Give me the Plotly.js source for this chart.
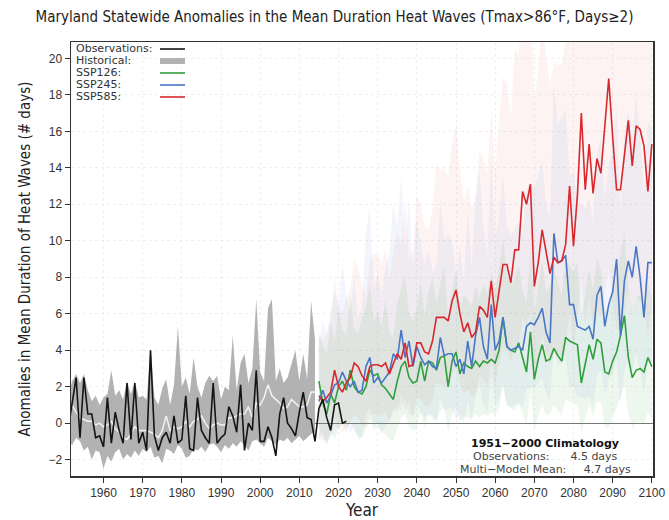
<!DOCTYPE html>
<html>
<head>
<meta charset="utf-8">
<script src="https://cdn.plot.ly/plotly-3.0.1.min.js"></script>
<style>html,body{margin:0;padding:0;background:#fff;}#chart{width:669px;height:520px;}</style>
</head>
<body>
<div id="chart"></div>
<script>
// ---------------- DATA ----------------
const obsStartYear = 1951;
const observations = [
  -0.3, 1.0, 2.5, -0.8, 2.5, 0.5, 0.5, -0.8, -0.7, -1.3,   // 1951-1960
  1.4, -1.1, 0.6, -0.4, -1.1, 2.2, -0.9, 2.2, -1.1, -0.5,  // 1961-1970
  -1.5, 4.0, -0.7, -1.5, -0.8, -0.5, -1.1, 0.4, -1.1, -0.9, // 1971-1980
  1.5, -1.4, -1.5, 1.4, -0.4, -0.8, -1.1, 2.2, -1.1, -0.8, // 1981-1990
  -0.6, 0.9, 0.4, -0.5, 2.1, -1.5, 0.0, -0.4, 2.9, -1.0,   // 1991-2000
  -1.0, -0.2, -0.8, -1.8, 0.5, 1.4, 0.0, -0.3, -0.7, 0.6,  // 2001-2010
  1.7, 0.3, 0.2, -1.0, 0.8, 1.3, 0.3, -0.4, 1.0, 1.1,      // 2011-2020
  0.0, 0.1                                                // 2021-2022
];

const histStartYear = 1951;
const historicalMean = [
  0.2, 1.0, 0.6, 0.3, 0.2, 0.1, 0.1, -0.1, 0.0, -0.2,      // 1951-1960
  -0.1, 0.1, -0.3, -0.5, -0.8, -0.9, -0.6, -0.2, -0.4, -0.4,// 1961-1970
  -0.4, -0.5, -0.6, -0.8, -0.4, 0.4, -0.4, -0.2, -0.3, -0.2,// 1971-1980
  0.1, -0.2, 0.1, 0.2, 0.4, 0.0, -0.3, -0.1, 0.0, -0.1,     // 1981-1990
  -0.1, 0.3, 0.3, 0.4, 0.5, 0.5, 0.9, 0.3, 1.1, 1.0,        // 1991-2000
  1.4, 2.1, 1.5, 1.3, 1.1, 0.8, 0.9, 1.3, 1.1, 0.9,         // 2001-2010
  0.9, 1.0, 1.7, 1.7                                        // 2011-2014
];
const historicalUpper = [
  1.5, 2.3, 2.7, 2.2, 2.7, 1.8, 1.2, 1.5, 1.0, 1.4,
  1.6, 2.9, 1.5, 1.8, 1.3, 2.3, 1.6, 2.3, 1.4, 1.5,
  1.3, 4.1, 1.4, 1.0, 1.9, 2.4, 1.0, 2.1, 5.3, 2.0,
  2.5, 1.6, 3.6, 2.0, 1.4, 2.2, 2.6, 2.3, 2.6, 1.3,
  2.0, 1.8, 4.8, 1.8, 3.3, 3.8, 2.2, 3.0, 6.8, 2.8,
  2.3, 6.3, 6.8, 2.3, 3.0, 2.2, 2.5, 3.2, 4.0, 2.3,
  3.8, 2.4, 6.7, 4.6
];
const historicalLower = [
  -1.0, -1.2, -0.8, -1.0, -1.5, -1.3, -2.0, -1.5, -1.6, -2.5,
  -1.8, -2.1, -1.6, -1.4, -2.0, -1.7, -1.9, -1.5, -1.8, -1.4,
  -1.6, -1.3, -1.9, -1.8, -2.2, -1.4, -1.5, -1.7, -1.2, -1.4,
  -1.9, -1.8, -1.4, -1.5, -1.3, -1.6, -1.2, -1.1, -1.3, -1.6,
  -1.2, -1.4, -1.1, -1.3, -1.0, -1.2, -1.5, -1.0, -0.9, -1.1,
  -1.3, -0.8, -1.0, -1.2, -0.9, -1.0, -0.8, -1.1, -0.9, -0.7,
  -1.0, -0.8, -0.6, -0.5
];

const sspStartYear = 2015;
const ssp126 = [
  2.3, 1.1, 0.5, 1.6, 1.1, 2.0, 2.3, 1.8, 2.9, 2.0,   // 2015-2024
  1.7, 1.6, 2.0, 2.9, 2.6, 2.7, 2.1, 1.9, 1.6, 1.3,   // 2025-2034
  2.3, 3.1, 3.4, 2.5, 2.2, 2.3, 3.4, 2.3, 3.4, 3.3,   // 2035-2044
  2.9, 3.6, 3.7, 2.0, 3.4, 3.9, 2.7, 3.3, 3.1, 3.0,   // 2045-2054
  3.4, 3.1, 3.4, 3.3, 3.5, 3.3, 4.0, 5.8, 4.2, 4.0,   // 2055-2064
  3.9, 4.4, 3.6, 2.8, 5.0, 2.4, 3.5, 4.3, 3.4, 3.5,   // 2065-2074
  4.1, 3.7, 3.4, 4.7, 4.5, 4.4, 4.3, 2.2, 3.2, 4.3,   // 2075-2084
  3.5, 4.6, 4.4, 2.8, 2.7, 3.4, 3.9, 4.8, 5.9, 3.6,   // 2085-2094
  2.5, 2.9, 3.0, 2.8, 3.6, 3.1                        // 2095-2100
];
const ssp245 = [
  1.2, 1.8, 1.1, 1.5, 2.1, 2.2, 2.8, 2.3, 2.0, 2.3,
  1.7, 1.8, 3.1, 3.6, 2.2, 2.5, 2.2, 2.5, 2.8, 3.8,
  3.5, 5.1, 3.6, 4.5, 3.1, 4.2, 3.6, 3.2, 3.4, 3.1,
  3.0, 4.7, 3.7, 3.8, 3.8, 3.1, 3.5, 2.7, 4.5, 3.1,
  4.8, 5.8, 4.2, 3.5, 6.5, 4.0, 4.5, 5.8, 4.2, 4.0,
  4.1, 4.2, 4.0, 5.3, 5.5, 5.4, 5.8, 6.3, 5.0, 4.4,
  10.4, 8.8, 8.9, 9.2, 6.5, 6.5, 5.3, 5.2, 5.1, 5.3,
  4.6, 7.0, 7.5, 5.3, 6.5, 7.2, 9.0, 4.8, 7.8, 8.9,
  8.0, 9.7, 8.0, 5.8, 8.8, 8.8
];
const ssp585 = [
  1.5, 1.2, 1.4, 1.7, 2.9, 2.0, 1.7, 2.2, 2.5, 3.3,
  3.1, 2.6, 2.3, 3.1, 3.2, 3.2, 3.1, 3.3, 2.7, 3.3,
  3.8, 3.5, 4.4, 3.1, 3.2, 4.4, 4.4, 3.9, 3.8, 4.5,
  5.8, 5.8, 5.8, 5.6, 6.7, 7.3, 6.0, 5.0, 5.5, 4.7,
  5.0, 6.4, 6.2, 5.8, 7.8, 5.8, 7.3, 8.7, 8.7, 7.7,
  9.5, 9.5, 12.7, 12.0, 13.1, 7.5, 8.8, 10.6, 9.4, 8.2,
  9.1, 8.8, 8.9, 9.8, 13.0, 9.7, 12.5, 17.0, 12.8, 15.3,
  12.6, 14.5, 13.7, 16.5, 18.9, 15.7, 12.8, 12.8, 14.8, 16.6,
  14.1, 16.3, 16.1, 15.2, 12.7, 15.3
];

const ssp126Upper = [
  5.0, 4.2, 3.8, 5.5, 4.6, 6.2, 5.1, 4.8, 7.0, 5.2,
  4.9, 5.8, 6.4, 7.6, 5.5, 6.1, 5.3, 6.8, 5.0, 4.7,
  6.6, 7.4, 8.2, 6.0, 5.6, 6.3, 7.8, 5.9, 7.2, 8.0,
  6.5, 7.7, 8.6, 5.8, 7.3, 8.4, 6.2, 7.0, 6.8, 6.4,
  7.5, 6.9, 7.6, 7.1, 8.3, 7.2, 8.5, 10.2, 8.1, 7.6,
  7.9, 8.7, 7.3, 6.6, 9.4, 6.0, 7.4, 8.9, 7.2, 7.5,
  8.4, 7.8, 7.0, 9.1, 8.6, 8.3, 8.8, 5.9, 7.1, 8.5,
  7.3, 9.0, 8.4, 6.3, 6.1, 7.2, 8.0, 9.3, 10.5, 7.4,
  6.0, 6.8, 7.1, 6.5, 7.7, 6.9
];
const ssp126Lower = [
  -0.2, -0.8, -1.2, -0.5, -0.9, -0.3, 0.0, -0.6, 0.2, -0.4,
  -0.7, -0.8, -0.3, 0.1, -0.2, 0.0, -0.5, -0.6, -0.9, -1.0,
  -0.3, 0.3, 0.5, -0.2, -0.4, -0.3, 0.6, -0.3, 0.5, 0.4,
  0.1, 0.7, 0.8, -0.5, 0.5, 0.9, 0.0, 0.4, 0.3, 0.2,
  0.5, 0.3, 0.5, 0.4, 0.6, 0.4, 0.9, 2.0, 1.0, 0.8,
  0.7, 1.1, 0.5, -0.1, 1.6, -0.4, 0.4, 1.0, 0.4, 0.5,
  1.0, 0.7, 0.4, 1.3, 1.2, 1.1, 1.0, -0.5, 0.2, 1.0,
  0.4, 1.2, 1.1, -0.2, -0.3, 0.4, 0.8, 1.4, 2.1, 0.5,
  -0.3, 0.0, 0.1, -0.1, 0.6, 0.2
];
const ssp245Upper = [
  4.5, 5.6, 4.8, 6.0, 7.2, 6.5, 8.8, 7.0, 6.1, 7.9,
  5.8, 6.3, 10.5, 11.8, 7.4, 8.2, 7.0, 8.6, 9.3, 12.0,
  10.8, 13.5, 9.6, 12.4, 8.5, 11.2, 9.8, 8.7, 9.5, 8.3,
  8.6, 12.2, 10.1, 10.4, 9.9, 8.2, 9.6, 7.8, 11.6, 8.5,
  12.3, 13.8, 10.7, 9.2, 14.6, 10.2, 11.4, 13.5, 10.8, 10.3,
  10.6, 11.0, 10.4, 12.8, 13.2, 12.9, 13.6, 14.4, 12.0, 11.2,
  18.5, 16.4, 16.8, 17.2, 13.5, 13.8, 12.1, 12.0, 11.8, 12.4,
  11.0, 14.8, 15.6, 12.3, 14.2, 15.0, 17.4, 11.6, 15.9, 17.1,
  15.6, 18.0, 15.8, 12.7, 16.5, 16.2
];
const ssp245Lower = [
  -1.0, -0.5, -1.1, -0.8, -0.2, -0.3, 0.4, -0.1, -0.5, -0.2,
  -0.9, -0.8, 0.5, 0.9, -0.4, -0.2, -0.5, -0.2, 0.1, 0.8,
  0.5, 1.6, 0.6, 1.2, 0.2, 1.0, 0.6, 0.3, 0.5, 0.2,
  0.1, 1.4, 0.7, 0.8, 0.8, 0.2, 0.5, -0.1, 1.3, 0.2,
  1.5, 2.2, 1.0, 0.6, 2.6, 1.0, 1.3, 2.2, 1.0, 0.9,
  1.0, 1.1, 0.9, 1.8, 2.0, 1.9, 2.2, 2.5, 1.6, 1.2,
  4.3, 3.2, 3.3, 3.5, 2.0, 2.0, 1.5, 1.4, 1.3, 1.5,
  0.9, 2.6, 2.9, 1.5, 2.4, 2.7, 3.5, 1.0, 2.9, 3.4,
  2.9, 3.8, 2.9, 1.6, 3.4, 3.3
];
const ssp585Upper = [
  4.8, 4.5, 5.0, 5.6, 8.0, 6.4, 5.9, 6.8, 7.4, 9.0,
  8.5, 7.6, 7.0, 8.8, 9.3, 9.2, 8.7, 9.6, 7.9, 9.4,
  10.5, 9.8, 12.2, 8.9, 9.4, 12.5, 12.0, 10.8, 10.6, 11.8,
  14.2, 13.8, 14.0, 13.5, 15.3, 16.4, 13.9, 12.2, 13.0, 11.8,
  12.4, 15.0, 14.5, 13.6, 17.2, 13.8, 16.5, 19.0, 18.6, 16.8,
  20.5, 20.2, 24.0, 23.0, 25.0, 17.5, 19.4, 22.0, 20.2, 18.5,
  19.8, 19.6, 19.7, 21.0, 25.5, 20.8, 24.0, 29.0, 23.5, 27.0,
  23.8, 26.0, 25.0, 28.5, 32.0, 27.5, 23.8, 23.5, 26.0, 28.5,
  25.0, 28.0, 27.5, 26.5, 23.0, 27.0
];
const ssp585Lower = [
  -0.8, -1.0, -0.9, -0.6, 0.2, -0.3, -0.5, -0.2, 0.0, 0.5,
  0.3, -0.1, -0.3, 0.4, 0.5, 0.5, 0.4, 0.6, 0.1, 0.6,
  0.9, 0.7, 1.4, 0.4, 0.5, 1.4, 1.3, 1.0, 0.9, 1.3,
  2.2, 2.1, 2.1, 1.9, 2.7, 3.1, 2.2, 1.6, 1.9, 1.4,
  1.6, 2.6, 2.4, 2.0, 3.5, 2.1, 3.2, 4.1, 4.0, 3.3,
  4.3, 4.2, 5.8, 5.3, 6.0, 2.9, 3.6, 4.8, 4.0, 3.2,
  3.8, 3.6, 3.7, 4.2, 6.2, 4.0, 5.7, 7.8, 5.4, 6.8,
  5.2, 6.3, 5.8, 7.2, 8.5, 6.6, 5.1, 5.1, 6.2, 7.2,
  5.8, 6.8, 6.7, 6.2, 4.8, 6.5
];

const legendLabels = ["Observations:", "Historical:", "SSP126:", "SSP245:", "SSP585:"];
const xTickYears = [1960, 1970, 1980, 1990, 2000, 2010, 2020, 2030, 2040, 2050, 2060, 2070, 2080, 2090, 2100];
const yTickValues = [-2, 0, 2, 4, 6, 8, 10, 12, 14, 16, 18, 20];
const climatologyLines = ["1951\u22122000 Climatology", "Observations:\u00a0\u00a0\u00a0\u00a0\u00a0 4.5 days", "Multi\u2212Model Mean:\u00a0\u00a0\u00a0\u00a0 4.7 days"];

// ---------------- STYLE ----------------
const COL = {
  obs: '#151515', histBand: '#b2b2b2', histMean: '#f2f2f2',
  g: '#2f9e3c', b: '#4a76c6', r: '#d8282e',
  gBand: 'rgba(90,180,90,0.10)', bBand: 'rgba(110,145,220,0.09)', rBand: 'rgba(230,100,100,0.08)'
};
const condensed = '"DejaVu Sans Condensed", "Liberation Sans Narrow", "Arial Narrow", sans-serif';

function years(start, n) { return Array.from({length: n}, (_, i) => start + i); }
function band(start, lower, upper, color) {
  const x = years(start, upper.length);
  return {
    x: x.concat(x.slice().reverse()),
    y: upper.concat(lower.slice().reverse()),
    type: 'scatter', mode: 'lines', fill: 'toself', fillcolor: color,
    line: {width: 0}, hoverinfo: 'skip', showlegend: false
  };
}
function line(start, vals, color, width) {
  return {x: years(start, vals.length), y: vals, type: 'scatter', mode: 'lines',
    line: {color: color, width: width}, showlegend: false};
}

const traces = [
  band(sspStartYear, ssp585Lower, ssp585Upper, COL.rBand),
  band(sspStartYear, ssp245Lower, ssp245Upper, COL.bBand),
  band(sspStartYear, ssp126Lower, ssp126Upper, COL.gBand),
  band(histStartYear, historicalLower, historicalUpper, COL.histBand),
  line(histStartYear, historicalMean, COL.histMean, 1.5),
  line(sspStartYear, ssp126, COL.g, 1.6),
  line(sspStartYear, ssp245, COL.b, 1.6),
  line(sspStartYear, ssp585, COL.r, 1.6),
  line(obsStartYear, observations, COL.obs, 1.6)
];

// plot area in px: x 71..653, y 42..476
const PL = 71, PW = 582, PT = 42, PH = 434;
const px = v => (v - PL) / PW;
const py = v => 1 - (v - PT) / PH;

const legendColors = [COL.obs, COL.histBand, COL.g, COL.b, COL.r];
const legendWidths = [1.6, 6, 1.6, 1.6, 1.6];
const rowsY = [49, 61, 73, 85, 97];

const annotations = [];
const shapes = [];
legendLabels.forEach((t, i) => {
  annotations.push({text: t, xref: 'paper', yref: 'paper', x: px(74), y: py(rowsY[i]),
    xanchor: 'left', yanchor: 'middle', showarrow: false,
    font: {family: '"DejaVu Sans", Verdana, sans-serif', size: 11, color: '#333'}});
  shapes.push({type: 'line', xref: 'paper', yref: 'paper', x0: px(160), x1: px(185),
    y0: py(rowsY[i]), y1: py(rowsY[i]), line: {color: legendColors[i], width: legendWidths[i]}});
});
const climY = [443, 456, 469];
climatologyLines.forEach((t, i) => {
  annotations.push({text: i === 0 ? '<b>' + t + '</b>' : t, xref: 'paper', yref: 'paper',
    x: px(545), y: py(climY[i]), xanchor: 'center', yanchor: 'middle', showarrow: false,
    font: {family: '"DejaVu Sans", Verdana, sans-serif', size: 11, color: i === 0 ? '#111' : '#444'}});
});

const axisCommon = {
  showline: true, mirror: true, linecolor: '#333', linewidth: 1.5,
  ticks: 'outside', ticklen: 5, tickcolor: '#333', tickwidth: 1,
  showgrid: true, gridcolor: 'rgba(0,0,0,0.06)', griddash: 'dot', gridwidth: 1,
  tickfont: {family: '"Liberation Sans", Arial, sans-serif', size: 12, color: '#333'}
};

const layout = {
  width: 669, height: 520,
  margin: {l: PL, r: 669 - PL - PW, t: PT, b: 520 - PT - PH},
  paper_bgcolor: '#fff', plot_bgcolor: '#fff',
  title: {text: 'Maryland Statewide Anomalies in the Mean Duration Heat Waves (Tmax>86°F, Days≥2)',
    xref: 'container', x: 0.5, xanchor: 'center', yref: 'container', y: 1 - 17 / 520, yanchor: 'middle',
    font: {family: condensed, size: 15, color: '#222'}},
  xaxis: Object.assign({}, axisCommon, {
    range: [1951.7, 2100.3], tickvals: xTickYears, zeroline: false,
    title: {text: 'Year', font: {family: condensed, size: 17, color: '#222'}, standoff: 8}
  }),
  yaxis: Object.assign({}, axisCommon, {
    range: [-2.9, 20.9], tickvals: yTickValues, zeroline: true, zerolinecolor: '#777', zerolinewidth: 1,
    title: {text: 'Anomalies in Mean Duration of Heat Waves (# days)', font: {family: condensed, size: 15, color: '#222'}, standoff: 14}
  }),
  annotations: annotations,
  shapes: shapes,
  showlegend: false
};

Plotly.newPlot('chart', traces, layout, {staticPlot: true, displayModeBar: false});
</script>
</body>
</html>
